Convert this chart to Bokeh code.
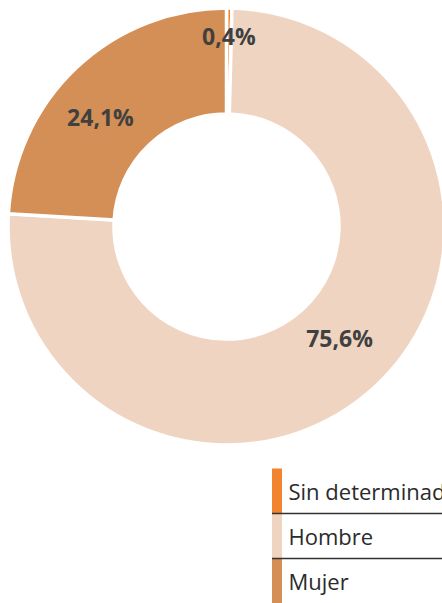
import math
from bokeh.plotting import figure
from bokeh.models import Range1d, ColumnDataSource
from bokeh.core.properties import value
from bokeh.embed import file_html
from bokeh.resources import INLINE

# ---- data ----
categories = ["Sin determinado", "Hombre", "Mujer"]
values = [0.4, 75.6, 24.1]
labels = ["0,4%", "75,6%", "24,1%"]
colors = ["#F28430", "#F0D4C2", "#D38F56"]

# label placement (polar, clockwise from 12 o'clock, radius in px)
label_angle_deg = [0.7, 134.7, 311.0]
label_radius = [191, 159, 167]

# ---- layout ----
W, H = 442, 603


def px(x):
    return x


def py(y):
    return H - y


cx, cy = px(226), py(226)
r_out, r_in = 218.5, 112.5

p = figure(width=W, height=H, output_backend="svg", toolbar_location=None,
           x_range=Range1d(0, W), y_range=Range1d(0, H), min_border=0)
p.axis.visible = False
p.grid.visible = False
p.outline_line_color = None
p.background_fill_color = "white"
p.border_fill_color = "white"

total = sum(values)
starts, ends = [], []
cum = 0.0
for v in values:
    starts.append(math.pi / 2 - 2 * math.pi * cum / total)
    cum += v
    ends.append(math.pi / 2 - 2 * math.pi * cum / total)

src = ColumnDataSource(dict(start=starts, end=ends, color=colors, cat=categories))
p.annular_wedge(x=cx, y=cy, inner_radius=r_in, outer_radius=r_out,
                start_angle="start", end_angle="end", direction="clock",
                fill_color="color", line_color="white", line_width=3.5, source=src)

lx = [cx + r * math.sin(math.radians(a)) for r, a in zip(label_radius, label_angle_deg)]
ly = [cy + r * math.cos(math.radians(a)) for r, a in zip(label_radius, label_angle_deg)]
p.text(x=lx, y=ly, text=labels, text_font=value("Open Sans"), text_font_style="bold",
       text_font_size="23px", text_color="#404040", text_align="center",
       text_baseline="middle")

# ---- legend ----
row_h = 45
top0 = py(468)
bar_l, bar_r = px(271.5), px(281.5)
tops = [top0 - i * row_h for i in range(len(categories))]
bottoms = [t - row_h for t in tops]
p.quad(left=bar_l, right=bar_r, top=tops, bottom=bottoms, fill_color=colors,
       line_color=None)
p.text(x=[px(288)] * len(categories), y=[t - row_h / 2 for t in tops], text=categories,
       text_font=value("Open Sans"), text_font_size="22px", text_color="#2b2b2b",
       text_align="left", text_baseline="middle")
p.segment(x0=[bar_l] * (len(categories) - 1), x1=[W] * (len(categories) - 1),
          y0=bottoms[:-1], y1=bottoms[:-1], line_color="#333333", line_width=1.5)

open("out.html", "w").write(file_html(p, INLINE))
